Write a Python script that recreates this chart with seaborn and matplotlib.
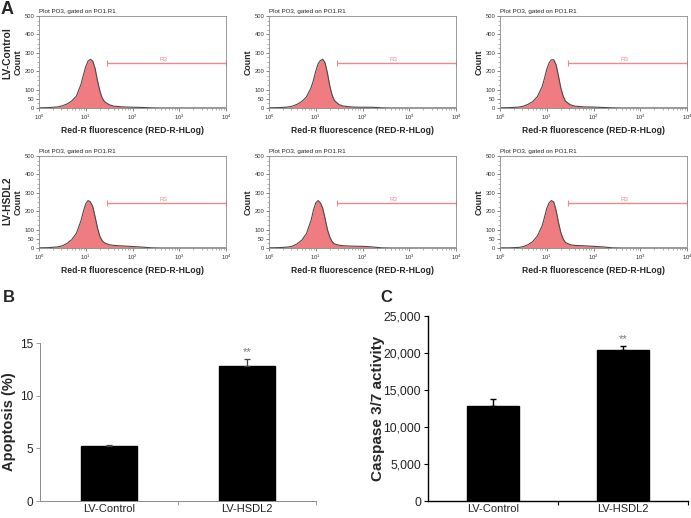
import numpy as np
import pandas as pd
import matplotlib
matplotlib.use("Agg")
import matplotlib.pyplot as plt
import matplotlib.ticker as mticker
import seaborn as sns

# ---------------- data ----------------
# flow cytometry histograms (x in decades of Red-R fluorescence)
fluor_decades = [0.0, 0.2, 0.4, 0.5, 0.6, 0.7, 0.8, 0.9, 0.95, 1.0, 1.05, 1.1, 1.15, 1.2,
                 1.25, 1.3, 1.35, 1.4, 1.5, 1.6, 1.8, 2.0, 2.2, 2.4, 2.6, 3.0, 4.0]
counts_ctrl_1 = [1, 2, 6, 12, 22, 38, 65, 130, 180, 225, 255, 265, 255, 215, 150, 95, 55, 35, 18, 10, 6, 4, 3, 1, 0, 0, 0]
counts_ctrl_2 = [1, 2, 5, 10, 20, 35, 60, 110, 150, 200, 240, 258, 265, 245, 190, 120, 70, 40, 18, 10, 5, 4, 4, 1, 0, 0, 0]
counts_ctrl_3 = [1, 2, 5, 10, 20, 35, 62, 115, 160, 210, 245, 262, 262, 235, 175, 110, 65, 38, 18, 10, 6, 5, 3, 1, 0, 0, 0]
counts_hsdl2_1 = [1, 2, 6, 12, 25, 45, 80, 150, 200, 240, 258, 250, 225, 170, 110, 65, 40, 28, 18, 14, 11, 8, 5, 1, 0, 0, 0]
counts_hsdl2_2 = [1, 2, 5, 10, 22, 42, 78, 150, 205, 245, 258, 245, 215, 160, 100, 60, 35, 22, 15, 12, 10, 9, 6, 1, 0, 0, 0]
counts_hsdl2_3 = [1, 1, 3, 8, 18, 35, 65, 120, 165, 215, 245, 258, 250, 205, 140, 85, 50, 30, 18, 14, 12, 9, 6, 1, 0, 0, 0]
gate_start = 10 ** 1.45
gate_end = 1e4
gate_level = 245

row_labels = ["LV-Control", "LV-HSDL2"]
groups = ["LV-Control", "LV-HSDL2"]
apoptosis = [5.2, 12.85]
apoptosis_err = [0.12, 0.6]
caspase = [12800, 20350]
caspase_err = [1050, 600]
signif = ["", "**"]

# ---------------- style ----------------
sns.set_style("white")
plt.rcParams["font.family"] = ["Liberation Sans", "DejaVu Sans"]
plt.rcParams["mathtext.fontset"] = "custom"
plt.rcParams["mathtext.rm"] = "Liberation Sans"

fig = plt.figure(figsize=(6.91, 5.18), dpi=100)

fill_col = "#EF7C80"
edge_col = "#4a4a4a"
gate_col = "#E98A8E"

hist_sets = [[counts_ctrl_1, counts_ctrl_2, counts_ctrl_3],
             [counts_hsdl2_1, counts_hsdl2_2, counts_hsdl2_3]]
col_lefts = [39, 269, 500]
row_tops = [16, 156]
W, H = 691.0, 518.0

for r, row in enumerate(hist_sets):
    for c, counts in enumerate(row):
        ax = fig.add_axes([col_lefts[c] / W, 1 - (row_tops[r] + 92) / H, 187 / W, 92 / H])
        df = pd.DataFrame({"x": [10 ** v for v in fluor_decades], "count": counts})
        ax.fill_between(df["x"], 0, df["count"], color=fill_col, lw=0)
        sns.lineplot(data=df, x="x", y="count", ax=ax, color=edge_col, lw=0.8)
        ax.set_xscale("log")
        ax.set_xlim(1, 1e4)
        ax.set_ylim(0, 500)
        ax.set_yticks([0, 50, 100, 200, 300, 400, 500])
        ax.yaxis.set_minor_locator(mticker.MultipleLocator(25))
        ax.set_xticks([1, 10, 100, 1000, 10000])
        ax.set_xticklabels([r"$10^{%d}$" % i for i in range(5)])
        ax.tick_params(axis="both", which="major", labelsize=4.2, length=2, width=0.5,
                       colors="#555555", labelcolor="#333333", pad=1.5, direction="out")
        ax.tick_params(axis="both", which="minor", length=1.2, width=0.4, colors="#777777")
        ax.tick_params(left=True, bottom=True, which="both")
        for s in ax.spines.values():
            s.set_color("#8a8a8a")
            s.set_linewidth(0.6)
        # gate R3
        ax.plot([gate_start, gate_end], [gate_level, gate_level], color=gate_col, lw=1.0)
        ax.plot([gate_start, gate_end], [gate_level, gate_level], ls="none", marker="|",
                ms=4, mew=0.8, color=gate_col)
        ax.text(10 ** 2.67, gate_level + 6, "R3", color=gate_col, fontsize=4.5,
                ha="center", va="bottom")
        ax.set_title("Plot PO3, gated on PO1.R1", loc="left", fontsize=4.5, pad=2,
                     color="#222222")
        ax.set_xlabel("Red-R fluorescence (RED-R-HLog)", fontsize=6.2, fontweight="bold",
                      labelpad=3)
        ax.set_ylabel("Count", fontsize=6.3, fontweight="bold")
        ax.yaxis.set_label_coords(-16 / 187, 0.5)

fig.text(7 / W, 1 - 53 / H, row_labels[0], rotation=90, fontsize=7.4, fontweight="bold",
         ha="center", va="center")
fig.text(7 / W, 1 - 201 / H, row_labels[1], rotation=90, fontsize=7.4, fontweight="bold",
         ha="center", va="center")
fig.text(1 / W, 1 - 1 / H, "A", fontsize=13, fontweight="bold", ha="left", va="top")
fig.text(3 / W, 1 - 298 / H, "B", fontsize=12, fontweight="bold", ha="left", va="center")
fig.text(380 / W, 1 - 297 / H, "C", fontsize=12, fontweight="bold", ha="left", va="center")

# ---------------- panel B ----------------
axB = fig.add_axes([40 / W, 1 - 501 / H, 276 / W, 158 / H])
dfB = pd.DataFrame({"group": groups, "value": apoptosis})
sns.barplot(data=dfB, x="group", y="value", ax=axB, color="black", width=0.41,
            edgecolor="black", errorbar=None)
axB.errorbar(range(len(groups)), apoptosis, yerr=[[0] * len(groups), apoptosis_err],
             fmt="none", ecolor="#444444", elinewidth=0.9, capsize=2.5, capthick=0.9)
for i, s in enumerate(signif):
    axB.text(i, apoptosis[i] + apoptosis_err[i] + 0.25, s, ha="center", va="bottom",
             fontsize=8, color="#777777")
axB.set_xlim(-0.5, 1.5)
axB.set_ylim(0, 15)
axB.set_yticks([0, 5, 10, 15])
axB.set_xticks([0, 1])
axB.set_xticklabels(groups)
axB.set_xticks([0.5, 1.5], minor=True)
axB.tick_params(axis="x", which="major", length=0, labelsize=8, pad=2, labelcolor="#222222")
axB.tick_params(axis="x", which="minor", length=3, width=0.6, color="#8a8a8a", bottom=True)
axB.tick_params(axis="y", length=3, width=0.6, color="#8a8a8a", labelsize=8.5, left=True,
                labelcolor="#222222", pad=2)
axB.set_xlabel("")
axB.set_ylabel("Apoptosis (%)", fontsize=10.5, fontweight="bold")
axB.yaxis.set_label_coords(-24 / 276, 0.5)
for k in ["top", "right"]:
    axB.spines[k].set_visible(False)
for k in ["left", "bottom"]:
    axB.spines[k].set_color("#8a8a8a")
    axB.spines[k].set_linewidth(0.7)

# ---------------- panel C ----------------
axC = fig.add_axes([428 / W, 1 - 501 / H, 260 / W, 185 / H])
dfC = pd.DataFrame({"group": groups, "value": caspase})
sns.barplot(data=dfC, x="group", y="value", ax=axC, color="black", width=0.4,
            edgecolor="black", errorbar=None)
axC.errorbar(range(len(groups)), caspase, yerr=[[0] * len(groups), caspase_err],
             fmt="none", ecolor="black", elinewidth=1.0, capsize=2.5, capthick=1.0)
for i, s in enumerate(signif):
    axC.text(i, caspase[i] + caspase_err[i] + 200, s, ha="center", va="bottom",
             fontsize=8, color="#777777")
axC.set_xlim(-0.5, 1.5)
axC.set_ylim(0, 25000)
axC.set_yticks(range(0, 25001, 5000))
axC.yaxis.set_major_formatter(mticker.FuncFormatter(lambda v, p: f"{int(v):,}"))
axC.set_xticks([0, 1])
axC.set_xticklabels(groups)
axC.set_xticks([0.5, 1.5], minor=True)
axC.tick_params(axis="x", which="major", length=0, labelsize=8, pad=2, labelcolor="#222222")
axC.tick_params(axis="x", which="minor", length=3, width=0.8, color="black", bottom=True)
axC.tick_params(axis="y", length=3, width=0.8, color="black", labelsize=8.8, left=True,
                labelcolor="#222222", pad=2)
axC.set_xlabel("")
axC.set_ylabel("Caspase 3/7 activity", fontsize=11, fontweight="bold")
axC.yaxis.set_label_coords(-43 / 260, 0.5)
for k in ["top", "right"]:
    axC.spines[k].set_visible(False)
for k in ["left", "bottom"]:
    axC.spines[k].set_color("black")
    axC.spines[k].set_linewidth(1.0)

fig.savefig("out.png", dpi=100)
